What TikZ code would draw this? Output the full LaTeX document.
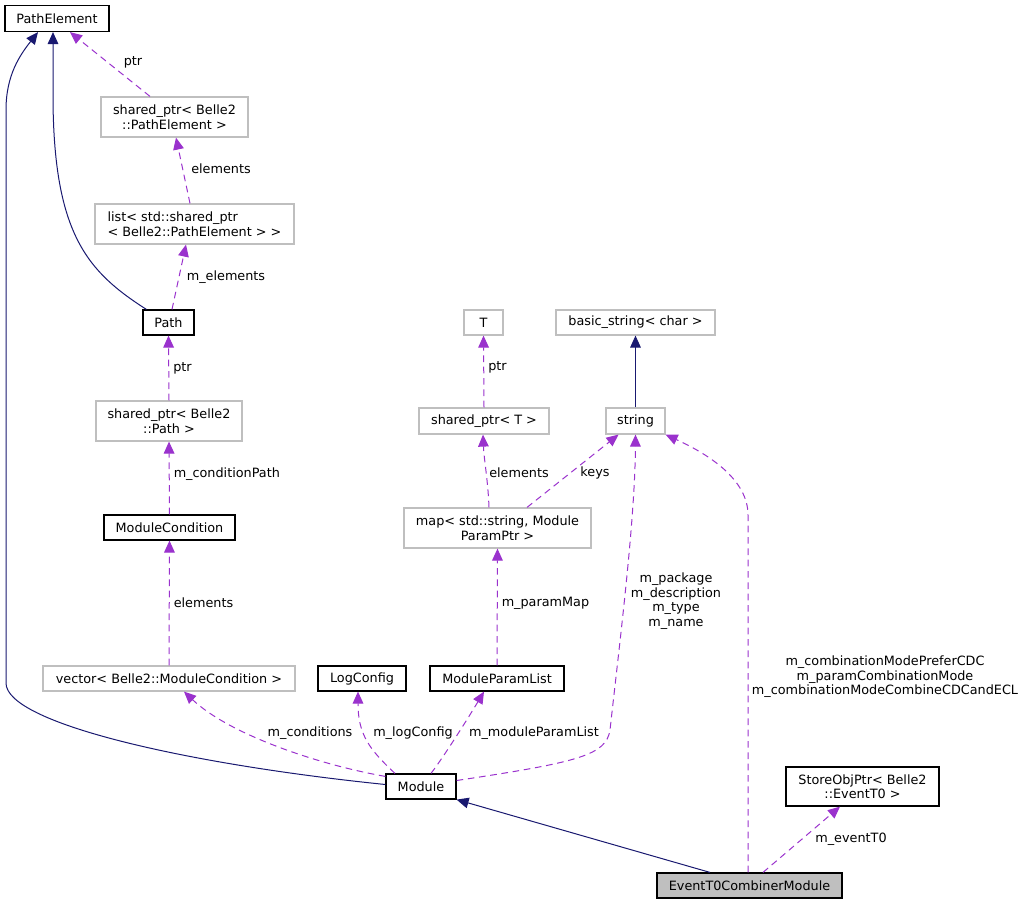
\documentclass[tikz,border=0pt]{standalone}
\usepackage{fontspec}
\setmainfont{DejaVu Sans}
\usetikzlibrary{arrows.meta,calc}
\definecolor{inhcol}{HTML}{191970}
\definecolor{memcol}{HTML}{9A32CD}
\definecolor{extcol}{HTML}{BFBFBF}
\tikzset{
	cls/.style={draw=black, line width=0.9pt, inner sep=0pt, font=\fontsize{9.6}{10.9}\selectfont, align=center},
	ext/.style={cls, draw=extcol},
	sz/.style 2 args={minimum width=#1*0.75pt, minimum height=#2*0.75pt},
	lbl/.style={inner sep=0pt, font=\fontsize{9.6}{10.9}\selectfont, align=center},
	inherit/.style={draw=inhcol, line width=0.75pt, -{Triangle[length=9pt,width=8pt]}},
	member/.style={draw=memcol, line width=0.75pt, dash pattern=on 5pt off 3.5pt, -{Triangle[length=9pt,width=8pt]}}
}
\begin{document}
\begin{tikzpicture}[x=0.75pt,y=-0.75pt]
	\useasboundingbox (0,0) rectangle (1025,904);
	% classes
	\node[cls, sz={104}{26}] (pathelement) at (57,18.5) {PathElement};
	\node[ext, sz={147}{40}] (sptrpe) at (174.5,117) {shared\_ptr< Belle2\\::PathElement >};
	\node[ext, sz={199}{40}, align=left] (listpe) at (194.5,224) {list< std::shared\_ptr\\< Belle2::PathElement > >};
	\node[cls, sz={51}{25}] (path) at (168.5,322.5) {Path};
	\node[ext, sz={146}{40}] (sptrpath) at (169,421) {shared\_ptr< Belle2\\::Path >};
	\node[cls, sz={131}{25}] (modcond) at (169.5,527.5) {ModuleCondition};
	\node[ext, sz={252}{25}] (vecmc) at (169,678.5) {vector< Belle2::ModuleCondition >};
	\node[cls, sz={88}{25}] (logconfig) at (362,678.5) {LogConfig};
	\node[cls, sz={134}{25}] (paramlist) at (497,678.5) {ModuleParamList};
	\node[cls, sz={70}{25}] (module) at (421,786.5) {Module};
	\node[ext, sz={39}{25}] (tmpl) at (483.5,322.5) {T};
	\node[ext, sz={159}{25}] (basicstr) at (635.5,322.5) {basic\_string< char >};
	\node[ext, sz={130}{26}] (sptrt) at (484,421) {shared\_ptr< T >};
	\node[ext, sz={59}{26}] (stdstring) at (635.5,421) {string};
	\node[ext, sz={187}{40}] (parammap) at (497.5,528) {map< std::string, Module\\ParamPtr >};
	\node[cls, sz={153}{39}] (eventptr) at (862.5,786.5) {StoreObjPtr< Belle2\\::EventT0 >};
	\node[cls, sz={185}{25}, fill=extcol] (combiner) at (749.5,885.5) {EventT0CombinerModule};
	% inheritance
	\draw[inherit] ($(module.west)+(0,-2)$) .. controls (185,764) and (6,723) .. (6,683) -- (6,110) .. controls (6,75) and (20,55) .. ($(pathelement.south)+(-19,0)$);
	\draw[inherit] ($(path.north west)+(4,0)$) .. controls (88,272) and (54,235) .. (53,100) -- ($(pathelement.south)+(-4,0)$);
	\draw[inherit] ($(combiner.north)+(-39.5,0)$) -- (module.south east);
	\draw[inherit] (stdstring.north) -- (basicstr.south);
	% members
	\draw[member] ($(sptrpe.north)+(-24.5,0)$) -- ($(pathelement.south)+(13,0)$);
	\draw[member] ($(listpe.north)+(-4.5,0)$) -- ($(sptrpe.south)+(1.5,0)$);
	\draw[member] ($(path.north)+(3.5,0)$) -- ($(listpe.south)+(-8.5,0)$);
	\draw[member] (sptrpath.north) -- (path.south) node[lbl, midway, right=3pt] (lptrpath) {ptr};
	\draw[member] (modcond.north) -- (sptrpath.south) node[lbl, midway, right=3pt, yshift=3pt] (lcondpath) {m\_conditionPath};
	\draw[member] (vecmc.north) -- (modcond.south) node[lbl, midway, right=3pt] (lelemmc) {elements};
	\draw[member] ($(module.north west)+(0,3)$) .. controls (320,765) and (230,735) .. ($(vecmc.south)+(15,0)$);
	\draw[member] ($(module.north)+(-26,0)$) .. controls (370,750) and (358,735) .. ($(logconfig.south)+(-4,0)$);
	\draw[member] ($(module.north)+(10,0)$) .. controls (445,755) and (470,715) .. ($(paramlist.south)+(-13,0)$);
	\draw[member] ($(module.east)+(0,-6)$) .. controls (580,762) and (606,755) .. (610,730) .. controls (620,640) and (635,520) .. (stdstring.south);
	\draw[member] ($(combiner.north)+(-1.5,0)$) -- (748,515) .. controls (748,480) and (710,455) .. (stdstring.south east);
	\draw[member] ($(combiner.north)+(13.5,0)$) -- ($(eventptr.south)+(-22.5,0)$);
	\draw[member] (sptrt.north) -- (tmpl.south) node[lbl, midway, right=3pt, yshift=3pt] (lptrt) {ptr};
	\draw[member] ($(parammap.north)+(-8.5,0)$) .. controls (488,480) and (484,460) .. ($(sptrt.south)+(-1,0)$);
	\draw[member] ($(parammap.north)+(29.5,0)$) -- ($(stdstring.south)+(-17,0)$);
	\draw[member] (paramlist.north) -- (parammap.south) node[lbl, midway, right=3pt, yshift=3pt] (lparammap) {m\_paramMap};
	% labels
	\node[lbl] (lptrpe) at (133,62) {ptr};
	\node[lbl] (lelempe) at (221,169) {elements};
	\node[lbl] (lelems) at (226,277) {m\_elements};
	\node[lbl] (lconds) at (310,733) {m\_conditions};
	\node[lbl] (llog) at (413,733) {m\_logConfig};
	\node[lbl] (lmpl) at (534,733) {m\_moduleParamList};
	\node[lbl] (lstrings) at (676,601) {m\_package\\m\_description\\m\_type\\m\_name};
	\node[lbl] (lmodes) at (885,677) {m\_combinationModePreferCDC\\m\_paramCombinationMode\\m\_combinationModeCombineCDCandECL};
	\node[lbl] (levt) at (851,839) {m\_eventT0};
	\node[lbl] (lelemmap) at (519,473) {elements};
	\node[lbl] (lkeys) at (595,473) {keys};
\end{tikzpicture}
\end{document}
